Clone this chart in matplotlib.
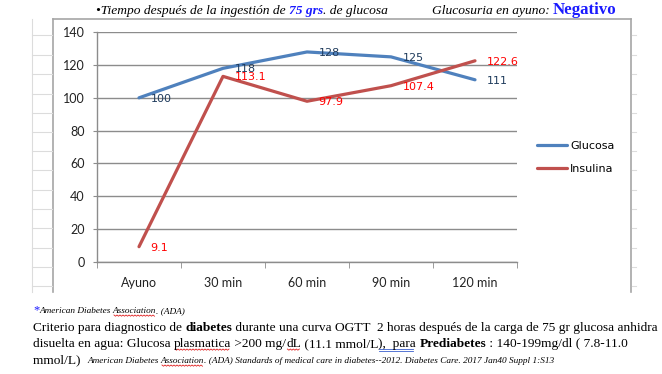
import matplotlib
matplotlib.use("Agg")
import matplotlib.pyplot as plt
from matplotlib.lines import Line2D

# datos
categorias = ["Ayuno", "30 min", "60 min", "90 min", "120 min"]
glucosa = [100, 118, 128, 125, 111]
insulina = [9.1, 113.1, 97.9, 107.4, 122.6]
yticks = [0, 20, 40, 60, 80, 100, 120, 140]

W, H = 662, 374
AZUL = "#4F81BD"
ROJO = "#C0504D"
GRIS = "#8c8c8c"

fig = plt.figure(figsize=(W / 100, H / 100), dpi=100)
fig.patch.set_facecolor("white")


def fx(px):
    return px / W


def fy(py):
    return 1 - py / H


# marco del grafico y rejilla de excel alrededor
marco = dict(color="#a6a6a6", lw=1.2, transform=fig.transFigure)
fig.add_artist(Line2D([fx(53), fx(53)], [fy(19), fy(292)], **marco))
fig.add_artist(Line2D([fx(53), fx(631)], [fy(19), fy(19)], **marco))
fig.add_artist(Line2D([fx(631), fx(631)], [fy(19), fy(292)], **marco))
celda = dict(color="#dcdcdc", lw=0.8, transform=fig.transFigure)
fig.add_artist(Line2D([fx(32), fx(32)], [fy(19), fy(292)], **celda))
for yy in [35, 55, 74, 94, 113, 132, 151, 170, 190, 209, 228, 248, 267, 286]:
    fig.add_artist(Line2D([fx(32), fx(52)], [fy(yy), fy(yy)], **celda))
    fig.add_artist(Line2D([fx(632), fx(636)], [fy(yy), fy(yy)], **celda))

ax = fig.add_axes([fx(97), fy(261.6), fx(517) - fx(97), fy(32.3) - fy(261.6)])
x = list(range(len(categorias)))
ax.plot(x, glucosa, color=AZUL, lw=2.3, solid_capstyle="round", label="Glucosa", zorder=3)
ax.plot(x, insulina, color=ROJO, lw=2.3, solid_capstyle="round", label="Insulina", zorder=3)

for xi, v in zip(x, glucosa):
    ax.annotate(f"{v:g}", (xi, v), xytext=(8.3, -0.8), textcoords="offset points",
                ha="left", va="center", fontsize=8, color="#1f3b5c", family="DejaVu Sans")
for xi, v in zip(x, insulina):
    ax.annotate(f"{v:g}", (xi, v), xytext=(8.3, -0.8), textcoords="offset points",
                ha="left", va="center", fontsize=8, color="#ff0000", family="DejaVu Sans")

ax.set_xlim(-0.5, len(categorias) - 0.5)
ax.set_ylim(0, 140)
ax.set_yticks(yticks)
ax.set_yticklabels([str(t) for t in yticks], family="Lato", fontsize=9, color="#222222")
ax.set_xticks(x)
ax.set_xticklabels(categorias, family="Lato", fontsize=9, color="#222222")
ax.set_xticks([i - 0.5 for i in range(len(categorias) + 1)], minor=True)
ax.tick_params(axis="x", which="major", length=0, pad=11)
ax.tick_params(axis="x", which="minor", length=4, color=GRIS, direction="out")
ax.tick_params(axis="y", length=3, color=GRIS, pad=6)
ax.grid(axis="y", color=GRIS, lw=1.0)
ax.set_axisbelow(True)
for s in ["top", "right"]:
    ax.spines[s].set_visible(False)
for s in ["left", "bottom"]:
    ax.spines[s].set_color(GRIS)
    ax.spines[s].set_linewidth(1.0)

fig.legend(handles=ax.get_lines(), loc="upper left", bbox_to_anchor=(fx(537), fy(141)),
           frameon=False, prop={"family": "DejaVu Sans", "size": 8}, handlelength=2.7,
           handletextpad=0.3, labelspacing=1.15, borderpad=0, borderaxespad=0)

renderer = fig.canvas.get_renderer()


def onda(x0, x1, y0):
    # subrayado ondulado rojo (corrector ortografico)
    xs, ys, k, xx = [], [], 0, x0
    while xx <= x1:
        xs.append(fx(xx))
        ys.append(fy(y0 + (1.2 if k % 2 else 0)))
        xx += 1.5
        k += 1
    fig.add_artist(Line2D(xs, ys, color="#e02020", lw=0.6, transform=fig.transFigure))


def linea(x0, y0, partes):
    # escribe trozos de texto seguidos con estilos distintos
    xx = x0
    for parte in partes:
        s, props = parte[0], parte[1]
        t = fig.text(fx(xx), fy(y0), s, va="baseline", ha="left", **props)
        bb = t.get_window_extent(renderer)
        if len(parte) > 2 and parte[2] == "onda":
            onda(bb.x0 + 1, bb.x1 - 1, y0 + 2)
        if len(parte) > 2 and parte[2] == "doble":
            for d in (2, 3.5):
                fig.add_artist(Line2D([fx(bb.x0), fx(bb.x1 - 3)], [fy(y0 + d), fy(y0 + d)],
                                      color="#3a5fcd", lw=0.6, transform=fig.transFigure))
        xx = bb.x1
    return xx


serif = "Liberation Serif"
it = dict(family=serif, style="italic", fontsize=9.7)
linea(96, 14, [
    ("•Tiempo después de la ingestión de ", it),
    ("75 grs", dict(it, color="#1a1aff", weight="bold")),
    (". de glucosa", it),
])
linea(432, 14, [
    ("Glucosuria en ayuno: ", it),
    ("Negativo", dict(family=serif, weight="bold", fontsize=12.2, color="#1a1aff")),
])

mini = dict(family=serif, style="italic", fontsize=6.7)
normal = dict(family=serif, fontsize=9.6)
negr = dict(normal, weight="bold")
linea(33, 313, [("*", dict(family=serif, fontsize=9, color="#1a1aff")),
                ("American Diabetes ", mini), ("Association", mini, "onda"),
                (". (ADA)", mini)])
linea(33, 331, [
    ("Criterio para diagnostico de ", normal),
    ("diabetes", negr),
    (" durante una curva OGTT  2 horas después de la carga de 75 gr glucosa anhidra", normal),
])
linea(33, 347, [
    ("disuelta en agua: Glucosa ", normal),
    ("plasmatica", normal, "onda"),
    (" >200 mg/", normal),
    ("dL", normal, "onda"),
    (" (11.1 mmol/L", normal),
    ("),  para", normal, "doble"),
    (" ", normal),
    ("Prediabetes", negr),
    (" : 140-199mg/dl ( 7.8-11.0", normal),
])
linea(33, 363, [
    ("mmol/L)  ", normal),
    ("American Diabetes ", mini),
    ("Association", mini, "onda"),
    (". (ADA) Standards of medical care in diabetes--2012. "
     "Diabetes Care. 2017 Jan40 Suppl 1:S13", mini),
])

fig.savefig("out.png", dpi=100)
